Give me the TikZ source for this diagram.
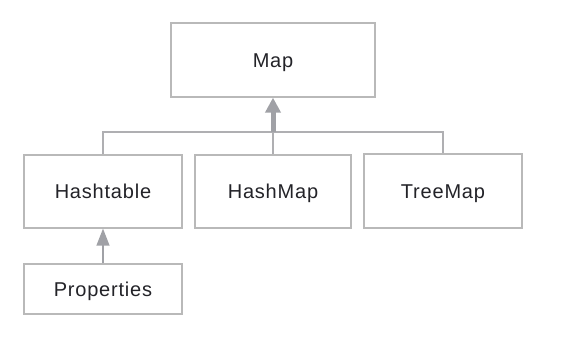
\documentclass[tikz,border=0pt]{standalone}
\usepackage{fontspec}
\setmainfont{Liberation Sans}[LetterSpace=4]
\usetikzlibrary{arrows.meta}
\definecolor{boxline}{RGB}{185,185,185}
\definecolor{conn}{RGB}{175,175,178}
\definecolor{arr}{RGB}{160,161,166}
\definecolor{txt}{RGB}{35,35,40}
\begin{document}
\begin{tikzpicture}[x=1pt,y=-1pt,
  cls/.style={draw=boxline,line width=1.3pt,fill=white,text=txt,font=\fontsize{20}{22}\selectfont,inner sep=0pt,text height=14.5pt,text depth=0pt},
  conline/.style={draw=conn,line width=1.3pt}]
\useasboundingbox (0,0) rectangle (583,352);
\node[cls,minimum width=204pt,minimum height=74pt] (map) at (273,60) {Map};
\node[cls,minimum width=158pt,minimum height=73pt] (hashtable) at (103,191.5) {Hashtable};
\node[cls,minimum width=156pt,minimum height=73pt] (hashmap) at (273,191.5) {HashMap};
\node[cls,minimum width=158pt,minimum height=74pt] (treemap) at (443,191) {TreeMap};
\node[cls,minimum width=158pt,minimum height=50pt] (properties) at (103,289) {Properties};
\coordinate (junction) at (273,132);
\draw[conline] (hashtable.north) -- (hashtable.north |- junction) -- (treemap.north |- junction) -- (treemap.north);
\draw[conline] (hashmap.north) -- (junction);
\draw[draw=arr,line width=5pt,-{Triangle[width=15pt,length=15pt]},arr] (junction) -- (map.south);
\draw[conline,-{Triangle[width=13pt,length=17pt]},arr] (properties.north) -- (hashtable.south);
\end{tikzpicture}
\end{document}
